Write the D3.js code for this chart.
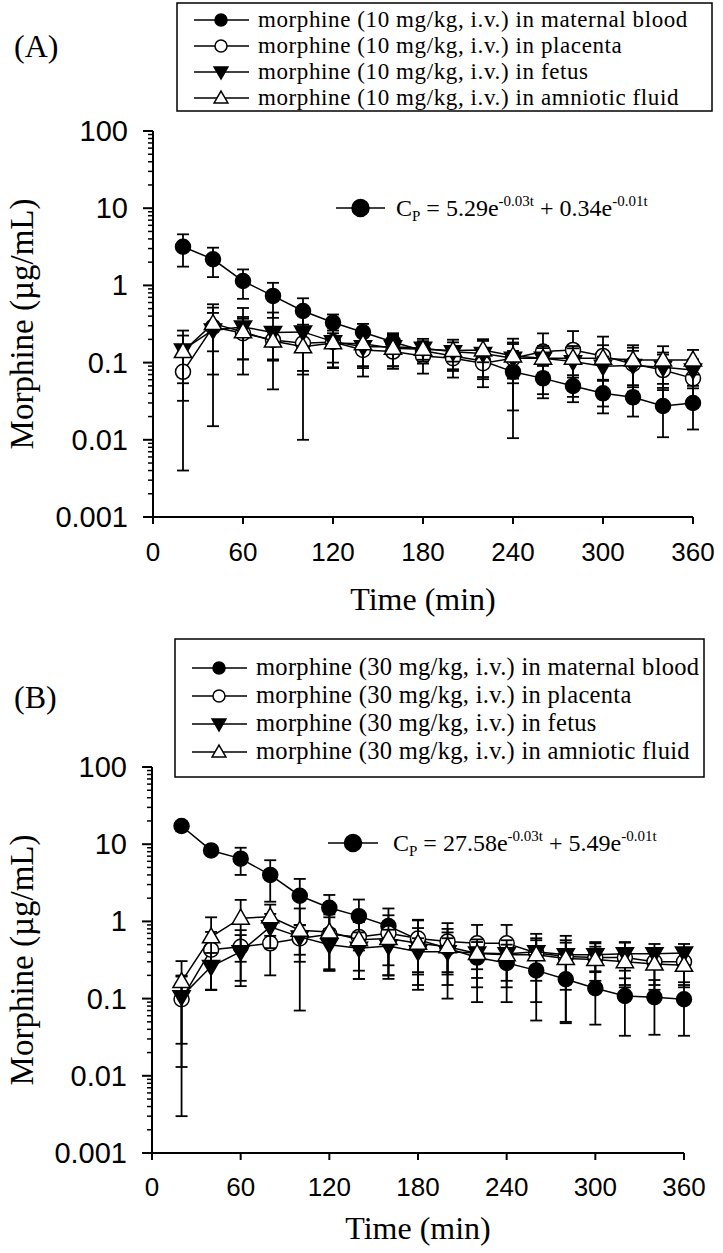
<!DOCTYPE html>
<html><head><meta charset="utf-8">
<script src="https://cdn.jsdelivr.net/npm/d3@7"></script>
<style>body{margin:0;background:#fff}svg{display:block}</style>
</head><body>
<svg id="c" width="723" height="1253"></svg>
<script>
const times = [20,40,60,80,100,120,140,160,180,200,220,240,260,280,300,320,340,360];
const xTicks = [0,60,120,180,240,300,360];
const yTicks = [0.001,0.01,0.1,1,10,100];
const yTickLabels = ["0.001","0.01","0.1","1","10","100"];
const seriesNames = ["maternal blood","placenta","fetus","amniotic fluid"];

// Panel A (10 mg/kg)
const aMaternal = [3.17,2.18,1.14,0.73,0.466,0.33,0.247,0.185,0.142,0.122,0.105,0.076,0.0625,0.0497,0.040,0.0355,0.0274,0.030];
const aMaternalSD = [1.42,0.9,0.47,0.35,0.215,0.09,0.07,0.055,0.045,0.04,0.04,0.0655,0.028,0.019,0.018,0.0155,0.0166,0.0164];
const aPlacenta = [0.076,0.29,0.24,0.196,0.178,0.185,0.146,0.139,0.122,0.114,0.098,0.114,0.139,0.146,0.122,0.096,0.08,0.0625];
const aPlacentaSD = [0.072,0.15,0.13,0.09,0.1,0.1,0.08,0.05,0.05,0.05,0.05,0.09,0.1,0.11,0.095,0.06,0.055,0.03];
const aFetus = [0.146,0.265,0.29,0.245,0.25,0.187,0.16,0.16,0.153,0.138,0.131,0.114,0.114,0.103,0.0895,0.092,0.087,0.08];
const aFetusSD = [0.114,0.25,0.22,0.2,0.18,0.1,0.07,0.07,0.05,0.06,0.07,0.06,0.05,0.05,0.03,0.05,0.04,0.03];
const aAmniotic = [0.139,0.32,0.25,0.19,0.16,0.18,0.175,0.153,0.149,0.143,0.146,0.122,0.114,0.114,0.114,0.108,0.108,0.108];
const aAmnioticSD = [0.085,0.25,0.14,0.08,0.15,0.08,0.09,0.07,0.04,0.04,0.045,0.06,0.04,0.05,0.054,0.06,0.055,0.038];

// Panel B (30 mg/kg)
const bMaternal = [17.2,8.3,6.5,4.0,2.15,1.5,1.17,0.87,0.58,0.45,0.34,0.29,0.232,0.178,0.136,0.108,0.104,0.098];
const bMaternalSD = [2.5,1.0,2.5,2.2,1.4,0.7,0.75,0.6,0.45,0.35,0.25,0.2,0.18,0.13,0.09,0.075,0.07,0.065];
const bPlacenta = [0.098,0.43,0.47,0.52,0.6,0.68,0.63,0.7,0.6,0.55,0.52,0.52,0.39,0.35,0.34,0.34,0.3,0.3];
const bPlacentaSD = [0.095,0.3,0.3,0.32,0.3,0.45,0.4,0.5,0.45,0.4,0.38,0.38,0.3,0.3,0.2,0.2,0.15,0.15];
const bFetus = [0.106,0.26,0.405,0.85,0.63,0.5,0.45,0.48,0.405,0.405,0.39,0.38,0.405,0.37,0.37,0.38,0.38,0.39];
const bFetusSD = [0.093,0.13,0.26,0.4,0.26,0.26,0.27,0.3,0.2,0.2,0.15,0.12,0.2,0.2,0.15,0.15,0.13,0.12];
const bAmniotic = [0.166,0.63,1.1,1.15,0.77,0.73,0.58,0.6,0.52,0.47,0.385,0.37,0.37,0.33,0.32,0.3,0.28,0.27];
const bAmnioticSD = [0.14,0.5,0.8,0.5,0.7,0.5,0.4,0.4,0.3,0.25,0.2,0.2,0.2,0.2,0.15,0.15,0.15,0.13];

const SERIF = "'Liberation Serif','Times New Roman',serif";
const SANS = "'Liberation Sans',Arial,sans-serif";
const svg = d3.select("#c");

function marker(g, kind, cx, cy, r){
  if(kind===0||kind===1){
    g.append("circle").attr("cx",cx).attr("cy",cy).attr("r",r)
      .attr("fill",kind===0?"#000":"#fff").attr("stroke","#000").attr("stroke-width",1.5);
  } else {
    const size = Math.sqrt(3)/4*Math.pow(r*2.3,2);
    g.append("path").attr("d",d3.symbol(d3.symbolTriangle,size)())
      .attr("transform",`translate(${cx},${cy+(kind===2?-1:1)})rotate(${kind===2?180:0})`)
      .attr("fill",kind===2?"#000":"#fff").attr("stroke","#000").attr("stroke-width",1.5);
  }
}

function panel(cfg){
  const g = svg.append("g");
  const x = d3.scaleLinear().domain([0,360]).range([cfg.x0,cfg.x1]);
  const y = d3.scaleLog().domain([0.001,100]).range([cfg.yb,cfg.yt]);
  // y axis
  const minor = [];
  for(let e=-3;e<2;e++) for(let m=2;m<=9;m++) minor.push(m*Math.pow(10,e));
  const ya = g.append("g").attr("transform",`translate(${cfg.x0},0)`);
  ya.append("line").attr("x1",0).attr("x2",0).attr("y1",y(0.001)).attr("y2",y(100)).attr("stroke","#000").attr("stroke-width",2);
  ya.selectAll(".mn").data(minor).enter().append("line").attr("x1",-5).attr("x2",0)
    .attr("y1",d=>y(d)).attr("y2",d=>y(d)).attr("stroke","#000").attr("stroke-width",1.5);
  ya.selectAll(".mj").data(yTicks).enter().append("line").attr("x1",-10).attr("x2",0)
    .attr("y1",d=>y(d)).attr("y2",d=>y(d)).attr("stroke","#000").attr("stroke-width",2);
  ya.selectAll(".lb").data(yTicks).enter().append("text").attr("x",-25).attr("y",d=>y(d)+10)
    .attr("text-anchor","end").attr("font-family",SANS).attr("font-size",29).text((d,i)=>yTickLabels[i]);
  // x axis
  const xa = g.append("g").attr("transform",`translate(0,${cfg.yb})`);
  xa.append("line").attr("x1",cfg.x0-10).attr("x2",cfg.x1).attr("y1",0).attr("y2",0).attr("stroke","#000").attr("stroke-width",2);
  xa.selectAll(".xt").data(xTicks).enter().append("line").attr("x1",d=>x(d)).attr("x2",d=>x(d))
    .attr("y1",0).attr("y2",7).attr("stroke","#000").attr("stroke-width",2);
  xa.selectAll(".xl").data(xTicks).enter().append("text").attr("x",d=>x(d)).attr("y",cfg.xlY)
    .attr("text-anchor","middle").attr("font-family",SANS).attr("font-size",26).text(d=>d);
  g.append("text").attr("x",(cfg.x0+cfg.x1)/2).attr("y",cfg.yb+cfg.ttY).attr("text-anchor","middle")
    .attr("font-family",SERIF).attr("font-size",32).text("Time (min)");
  g.append("text").attr("transform",`translate(33,${(cfg.yb+cfg.yt)/2})rotate(-90)`).attr("text-anchor","middle")
    .attr("font-family",SERIF).attr("font-size",33).text("Morphine (\u00b5g/mL)");
  // series
  cfg.series.forEach((s,k)=>{
    const sg = g.append("g");
    s.mean.forEach((m,i)=>{
      const lo = Math.max(m - s.sd[i], 0.001), hi = m + s.sd[i];
      const cx = x(times[i]);
      sg.append("line").attr("x1",cx).attr("x2",cx).attr("y1",y(lo)).attr("y2",y(hi)).attr("stroke","#000").attr("stroke-width",1.8);
      [lo,hi].forEach(v=>{ if(v>0.001) sg.append("line").attr("x1",cx-6).attr("x2",cx+6).attr("y1",y(v)).attr("y2",y(v)).attr("stroke","#000").attr("stroke-width",1.8); });
    });
    sg.append("path").datum(s.mean).attr("fill","none").attr("stroke","#000").attr("stroke-width",1.5)
      .attr("d",d3.line().x((d,i)=>x(times[i])).y(d=>y(d)));
    s.mean.forEach((m,i)=>marker(sg,k,x(times[i]),y(m),7.5));
  });
  // legend
  const L = cfg.leg;
  g.append("rect").attr("x",L.x).attr("y",L.y).attr("width",L.w).attr("height",L.h)
    .attr("fill","#fff").attr("stroke","#000").attr("stroke-width",1.5);
  seriesNames.forEach((nm,k)=>{
    const ry = L.rows[k];
    g.append("line").attr("x1",L.x+17).attr("x2",L.x+72).attr("y1",ry).attr("y2",ry).attr("stroke","#000").attr("stroke-width",1.5);
    marker(g,k,L.x+44,ry,6);
    g.append("text").attr("x",L.x+81).attr("y",ry+7).attr("font-family",SERIF).attr("font-size",L.fs)
      .attr("letter-spacing",L.ls).text(`morphine (${cfg.dose} mg/kg, i.v.) in ${nm}`);
  });
  // panel label
  g.append("text").attr("x",14).attr("y",cfg.labY).attr("font-family",SERIF).attr("font-size",32).text(cfg.label);
  // equation
  const E = cfg.eq;
  g.append("line").attr("x1",E.x1).attr("x2",E.x2).attr("y1",E.y).attr("y2",E.y).attr("stroke","#000").attr("stroke-width",1.5);
  marker(g,0,(E.x1+E.x2)/2,E.y,8.5);
  const t = g.append("text").attr("x",E.tx).attr("y",E.y+8).attr("font-family",SERIF).attr("font-size",24);
  t.append("tspan").text("C");
  t.append("tspan").attr("font-size",15).attr("dy",5).text("P");
  t.append("tspan").attr("dy",-5).text(" = "+E.a+"e");
  t.append("tspan").attr("font-size",15).attr("dy",-10).text("-0.03t");
  t.append("tspan").attr("dy",10).text(" + "+E.b+"e");
  t.append("tspan").attr("font-size",15).attr("dy",-10).text("-0.01t");
}

panel({x0:153,x1:693,yb:517,yt:131,label:"(A)",labY:57,dose:10,xlY:44,ttY:93,
  leg:{x:177,y:3,w:535,h:108,rows:[20,46,72,98],fs:23,ls:0.6},
  eq:{x1:336,x2:385,y:208,tx:396,a:"5.29",b:"0.34"},
  series:[{mean:aMaternal,sd:aMaternalSD},{mean:aPlacenta,sd:aPlacentaSD},{mean:aFetus,sd:aFetusSD},{mean:aAmniotic,sd:aAmnioticSD}]});
panel({x0:152,x1:684,yb:1153,yt:767,label:"(B)",labY:708,dose:30,xlY:43,ttY:86,
  leg:{x:175,y:639,w:529,h:138,rows:[668,696,724,752],fs:24.5,ls:0.3},
  eq:{x1:328,x2:378,y:843,tx:393,a:"27.58",b:"5.49"},
  series:[{mean:bMaternal,sd:bMaternalSD},{mean:bPlacenta,sd:bPlacentaSD},{mean:bFetus,sd:bFetusSD},{mean:bAmniotic,sd:bAmnioticSD}]});
</script>
</body></html>
